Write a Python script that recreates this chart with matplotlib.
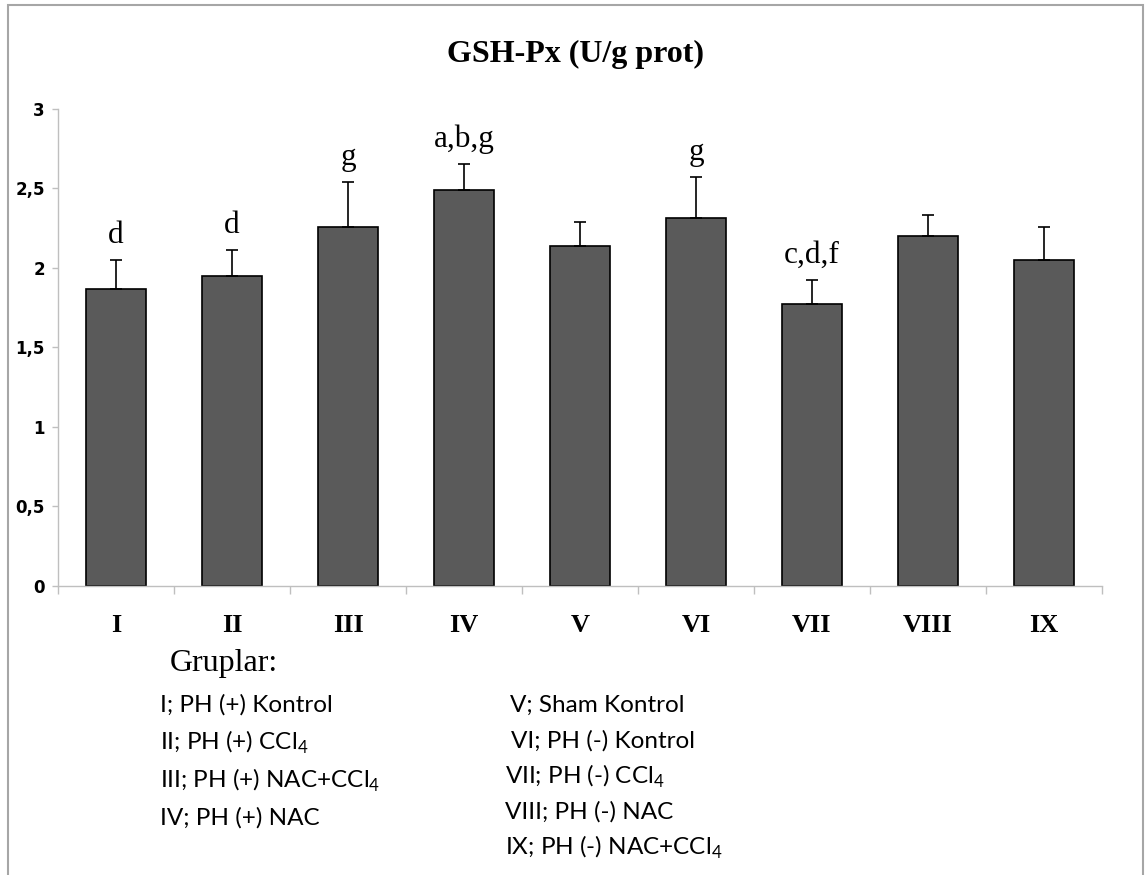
import matplotlib
matplotlib.use('Agg')
import matplotlib.pyplot as plt
import numpy as np
from matplotlib.patches import Rectangle

# ── data ─────────────────────────────────────────────────────────────────────
groups     = ['I', 'II', 'III', 'IV', 'V', 'VI', 'VII', 'VIII', 'IX']
means      = [1.865, 1.950, 2.260, 2.490, 2.138, 2.314, 1.770, 2.199, 2.053]
sd_upper   = [0.185, 0.163, 0.283, 0.167, 0.151, 0.258, 0.157, 0.132, 0.207]
sig_labels = ['d', 'd', 'g', 'a,b,g', '', 'g', 'c,d,f', '', '']
y_ticks    = [0, 0.5, 1, 1.5, 2, 2.5, 3]

legend_left  = ['I; PH (+) Kontrol', 'II; PH (+) CCl$_\\mathregular{4}$',
                'III; PH (+) NAC+CCl$_\\mathregular{4}$', 'IV; PH (+) NAC']
legend_right = ['V; Sham Kontrol', 'VI; PH (-) Kontrol', 'VII; PH (-) CCl$_\\mathregular{4}$',
                'VIII; PH (-) NAC', 'IX; PH (-) NAC+CCl$_\\mathregular{4}$']

SERIF = 'Liberation Serif'
SANS = 'Lato'
GRID_GREY = '#bfbfbf'

fig = plt.figure(figsize=(11.45, 8.75), dpi=100)
ax = fig.add_axes([0.0507, 0.3306, 0.9117, 0.5448])

x = np.arange(len(groups))
ax.bar(x, means, width=0.52, color='#5a5a5a', edgecolor='black', linewidth=1.2, zorder=2)
ax.errorbar(x, means, yerr=[np.zeros(len(means)), sd_upper], fmt='none',
            ecolor='black', elinewidth=1.2, capsize=4, capthick=1.2, zorder=3)

# significance letters above the error bars
for xi, m, s, lab in zip(x, means, sd_upper, sig_labels):
    if lab:
        ax.annotate(lab, (xi, m + s), xytext=(0, 7), textcoords='offset points',
                    ha='center', va='bottom', fontsize=22.5, family=SERIF)

ax.set_xlim(-0.5, len(groups) - 0.5)
ax.set_ylim(0, 3)

# x: ticks at the category boundaries, labels at the centres
ax.set_xticks(np.arange(-0.5, len(groups)), minor=False)
ax.set_xticklabels([])
ax.set_xticks(x, minor=True)
ax.set_xticklabels(groups, minor=True, fontsize=19, fontweight='bold', family=SERIF)
ax.tick_params(axis='x', which='major', length=6, color=GRID_GREY, width=1)
ax.tick_params(axis='x', which='minor', length=0, pad=20)

ax.set_yticks(y_ticks)
ax.set_yticklabels([f'{v:g}'.replace('.', ',') for v in y_ticks],
                   fontsize=12, fontweight='bold', family='DejaVu Sans')
ax.tick_params(axis='y', length=4.5, color=GRID_GREY, width=1, pad=5)

for side in ['top', 'right']:
    ax.spines[side].set_visible(False)
for side in ['left', 'bottom']:
    ax.spines[side].set_color(GRID_GREY)
    ax.spines[side].set_linewidth(1)

fig.text(0.503, 1 - 54 / 875, 'GSH-Px (U/g prot)', ha='center', va='center',
         fontsize=23, fontweight='bold', family=SERIF)

# group legend below the chart
fig.text(170 / 1145, 1 - 664 / 875, 'Gruplar:', ha='left', va='center',
         fontsize=23, family=SERIF)
for i, t in enumerate(legend_left):
    fig.text(160 / 1145, 1 - (705 + 37.5 * i) / 875, t, ha='left', va='center',
             fontsize=17.5, family=SANS)
right_x = [510, 511, 505, 505, 505]
for i, t in enumerate(legend_right):
    fig.text(right_x[i] / 1145, 1 - (705 + 35.5 * i) / 875, t, ha='left', va='center',
             fontsize=17.5, family=SANS)

# chart-area frame
fig.add_artist(Rectangle((8 / 1145, -0.02), 1135 / 1145, 1.02 - 5 / 875,
                         transform=fig.transFigure, fill=False,
                         edgecolor='#a6a6a6', linewidth=1.5))

fig.savefig('out.png', dpi=100)
